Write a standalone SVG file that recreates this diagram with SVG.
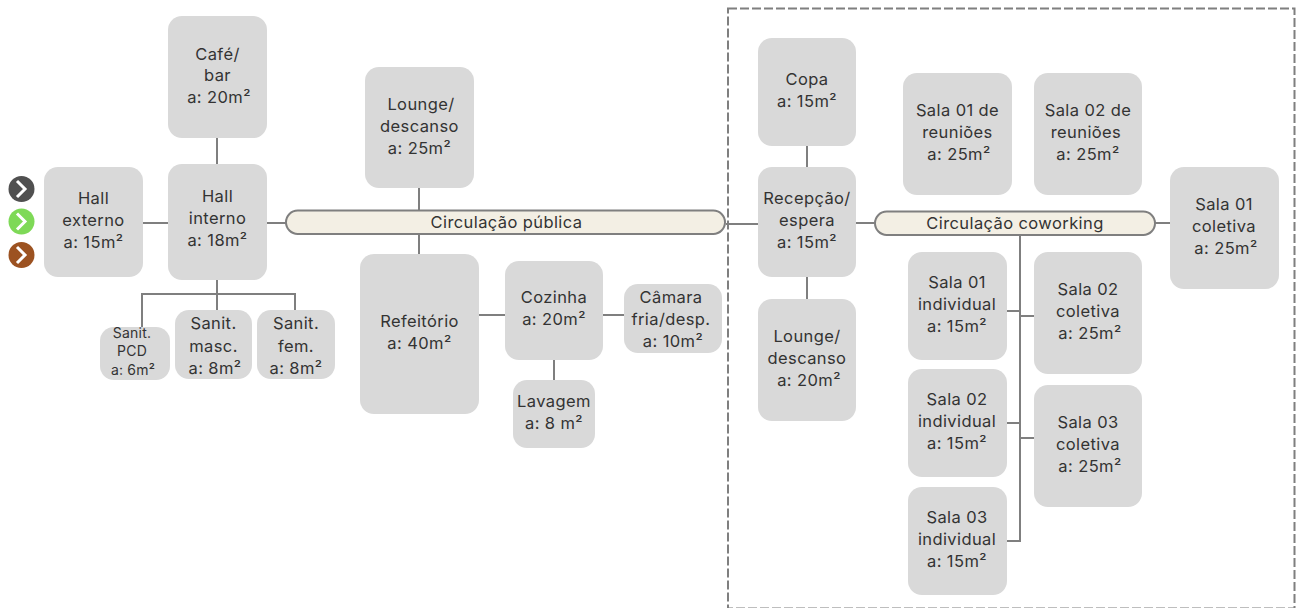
<svg xmlns="http://www.w3.org/2000/svg" width="1301" height="608" viewBox="0 0 1301 608">
<style>
.n{fill:#d9d9d9}
.p{fill:#f3efe4;stroke:#7f7f7f;stroke-width:2}
.c{fill:none;stroke:#7f7f7f;stroke-width:2}
text{font-family:"Inter","Noto Sans","Liberation Sans",sans-serif;font-size:16.500px;letter-spacing:.4px;fill:#333;text-anchor:middle}
.s{font-size:14px;letter-spacing:.2px}
.w{fill:none;stroke:#fff;stroke-width:3}
</style>
<rect x="728" y="8.500" width="566.500" height="600" fill="none" stroke="#7f7f7f" stroke-width="2" stroke-dasharray="9 3"/>
<g id="connectors">
<path class="c" d="M217 138V164M143 223H168M267 223H286M217 280V310M142 330V294H295V310M419 188V210M419 234V254M479 315H505M603 315H624M554 360V380M726 224H758M856 223H875M807 146V167M807 277V299M1155 223H1170M1020 235V541H1007M1007 311H1020M1007 423H1020M1020 316H1034M1020 438H1034"/>
</g>
<g id="entry-icons">
<circle cx="21.500" cy="189" r="13" fill="#505050"/><path class="w" d="M17 181L25 189L17 197"/>
<circle cx="21.500" cy="221.500" r="13" fill="#7ed957"/><path class="w" d="M17 213.500L25 221.500L17 229.500"/>
<circle cx="21.500" cy="255" r="13" fill="#9c5221"/><path class="w" d="M17 247L25 255L17 263"/>
</g>
<g id="cafe"><rect class="n" x="168" y="16" width="99" height="122" rx="14"/><text x="217.500" y="60">Café/</text><text x="217.500" y="81">bar</text><text x="219" y="103">a: 20m²</text></g>
<g id="hall-interno"><rect class="n" x="168" y="164" width="99" height="116" rx="14"/><text x="217.500" y="202">Hall</text><text x="217.500" y="224">interno</text><text x="217.500" y="246">a: 18m²</text></g>
<g id="hall-externo"><rect class="n" x="44" y="167" width="99" height="110" rx="14"/><text x="93.500" y="204">Hall</text><text x="93.500" y="226">externo</text><text x="93.500" y="248">a: 15m²</text></g>
<g id="sanit-pcd"><rect class="n" x="100" y="327" width="70" height="53" rx="14"/><text class="s" x="132" y="338">Sanit.</text><text class="s" x="132" y="356">PCD</text><text class="s" x="133" y="375">a: 6m²</text></g>
<g id="sanit-masc"><rect class="n" x="175" y="310" width="77" height="69" rx="14"/><text x="213.500" y="329">Sanit.</text><text x="213.500" y="352">masc.</text><text x="215" y="374">a: 8m²</text></g>
<g id="sanit-fem"><rect class="n" x="257" y="310" width="78" height="69" rx="14"/><text x="296" y="329">Sanit.</text><text x="296" y="352">fem.</text><text x="296" y="374">a: 8m²</text></g>
<g id="lounge-1"><rect class="n" x="365" y="67" width="109" height="121" rx="14"/><text x="421" y="110">Lounge/</text><text x="419.500" y="132">descanso</text><text x="419.500" y="154">a: 25m²</text></g>
<g id="circulacao-publica"><rect class="p" x="286" y="210.500" width="439" height="23.500" rx="11.700"/><text x="506.500" y="228">Circulação pública</text></g>
<g id="refeitorio"><rect class="n" x="360" y="254" width="119" height="160" rx="14"/><text x="419.500" y="327">Refeitório</text><text x="419.500" y="349">a: 40m²</text></g>
<g id="cozinha"><rect class="n" x="505" y="261" width="98" height="99" rx="14"/><text x="554" y="303">Cozinha</text><text x="554" y="325">a: 20m²</text></g>
<g id="camara"><rect class="n" x="624" y="284" width="98" height="69" rx="14"/><text x="671" y="303">Câmara</text><text x="671" y="325">fria/desp.</text><text x="673" y="347">a: 10m²</text></g>
<g id="lavagem"><rect class="n" x="513" y="380" width="82" height="68" rx="14"/><text x="554" y="407">Lavagem</text><text x="554" y="429">a: 8 m²</text></g>
<g id="copa"><rect class="n" x="758" y="38" width="98" height="108" rx="14"/><text x="807" y="85">Copa</text><text x="807" y="107">a: 15m²</text></g>
<g id="recepcao"><rect class="n" x="758" y="167" width="98" height="110" rx="14"/><text x="807" y="204">Recepção/</text><text x="807" y="226">espera</text><text x="807" y="248">a: 15m²</text></g>
<g id="lounge-2"><rect class="n" x="758" y="299" width="98" height="122" rx="14"/><text x="807" y="342">Lounge/</text><text x="807" y="364">descanso</text><text x="809" y="386">a: 20m²</text></g>
<g id="sala-01-reunioes"><rect class="n" x="903" y="73" width="109" height="122" rx="14"/><text x="957.500" y="116">Sala 01 de</text><text x="957.500" y="138">reuniões</text><text x="959" y="160">a: 25m²</text></g>
<g id="sala-02-reunioes"><rect class="n" x="1034" y="73" width="108" height="122" rx="14"/><text x="1088" y="116">Sala 02 de</text><text x="1086" y="138">reuniões</text><text x="1088" y="160">a: 25m²</text></g>
<g id="circulacao-coworking"><rect class="p" x="875" y="211.500" width="280" height="23.500" rx="11.700"/><text x="1015" y="229">Circulação coworking</text></g>
<g id="sala-01-coletiva"><rect class="n" x="1170" y="167" width="109" height="122" rx="14"/><text x="1224" y="210">Sala 01</text><text x="1224" y="232">coletiva</text><text x="1226" y="254">a: 25m²</text></g>
<g id="sala-01-individual"><rect class="n" x="908" y="252" width="99" height="108" rx="14"/><text x="957" y="288">Sala 01</text><text x="957" y="310">individual</text><text x="957" y="332">a: 15m²</text></g>
<g id="sala-02-individual"><rect class="n" x="908" y="369" width="99" height="108" rx="14"/><text x="957" y="405">Sala 02</text><text x="957" y="427">individual</text><text x="957" y="449">a: 15m²</text></g>
<g id="sala-03-individual"><rect class="n" x="908" y="487" width="99" height="108" rx="14"/><text x="957" y="523">Sala 03</text><text x="957" y="545">individual</text><text x="957" y="567">a: 15m²</text></g>
<g id="sala-02-coletiva"><rect class="n" x="1034" y="252" width="108" height="122" rx="14"/><text x="1088" y="295">Sala 02</text><text x="1088" y="317">coletiva</text><text x="1090" y="339">a: 25m²</text></g>
<g id="sala-03-coletiva"><rect class="n" x="1034" y="385" width="108" height="122" rx="14"/><text x="1088" y="428">Sala 03</text><text x="1088" y="450">coletiva</text><text x="1090" y="472">a: 25m²</text></g>
</svg>
